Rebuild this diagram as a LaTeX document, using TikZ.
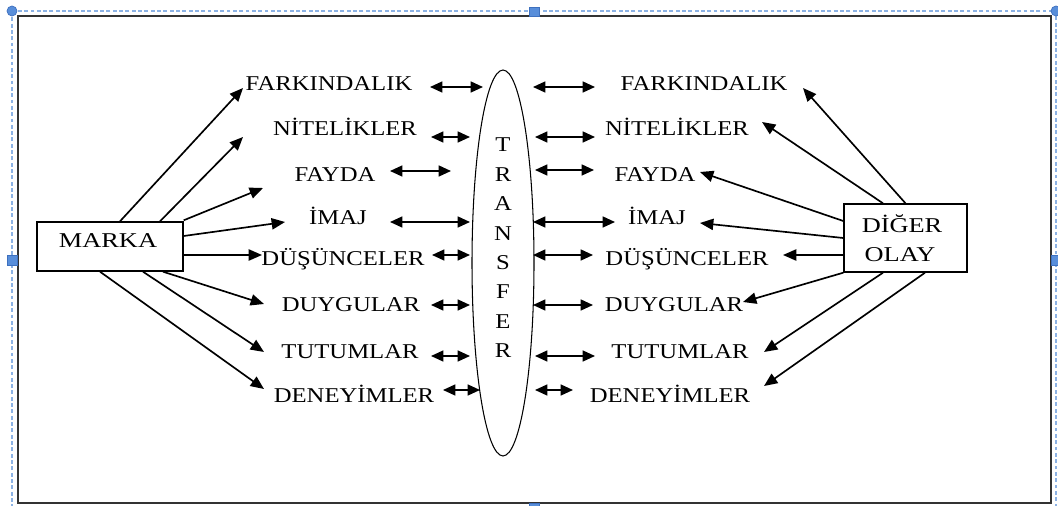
\documentclass[tikz,border=0pt]{standalone}
\usepackage{fontspec}
\setmainfont[FakeStretch=1.17]{Liberation Serif}
\newfontfamily\boxfont[FakeStretch=1.25]{Liberation Serif}
\usetikzlibrary{arrows.meta,shapes.geometric}
\definecolor{selblue}{RGB}{140,178,228}
\definecolor{handlefill}{RGB}{88,142,218}
\definecolor{handledraw}{RGB}{62,112,190}

\begin{document}
\begin{tikzpicture}[x=0.02cm,y=-0.02cm,
  lbl/.style={anchor=base, inner sep=0pt, font=\fontsize{12}{14}\selectfont},
  boxtxt/.style={anchor=base, inner sep=0pt, font=\boxfont\fontsize{12}{14}\selectfont},
  frame box/.style={draw, line width=0.8pt, inner sep=0pt},
  link/.style={line width=0.95pt, -{Triangle[length=7.6pt,width=6.4pt]}},
  dbl/.style={line width=0.95pt, {Triangle[length=7pt,width=6.2pt]}-{Triangle[length=7pt,width=6.2pt]}},
  handle/.style={fill=handlefill, draw=handledraw, line width=0.4pt}
]
\useasboundingbox (0,0) rectangle (1058,506);
\clip (0,0) rectangle (1058,506);

% selection outline and handles
\draw[selblue, line width=1pt, dash pattern=on 2.2pt off 1.4pt] (12,11) rectangle (1056,512);
\draw[black!80, line width=1.1pt] (18,16) rectangle (1051,503);
\fill[handle] (12,11) circle[radius=0.1cm];
\fill[handle] (1056,11) circle[radius=0.1cm];
\filldraw[handle] (529,7) rectangle (539,16);
\filldraw[handle] (7,255) rectangle (17,265);
\filldraw[handle] (1051,255) rectangle (1061,265);
\filldraw[handle] (529,503) rectangle (539,512);

% the two boxes
\node[frame box, minimum width=2.92cm, minimum height=0.98cm] (marka) at (110,246.5) {};
\node[boxtxt] (markatxt) at (108,248) {MARKA};
\node[frame box, minimum width=2.46cm, minimum height=1.36cm] (diger) at (905.5,238) {};
\node[boxtxt] (digtxt1) at (902,233) {DİĞER};
\node[boxtxt] (digtxt2) at (900,262) {OLAY};

% central ellipse with vertical text
\node[draw, ellipse, line width=0.6pt, minimum width=1.24cm, minimum height=7.72cm, inner sep=0pt] (transfer) at (503,263) {};
\foreach \c [count=\i from 0] in {T,R,A,N,S,F,E,R}
  \node[lbl] (tr\i) at (503,{152+29.4*\i}) {\c};

% left column of labels
\node[lbl] (lf1) at (329,91) {FARKINDALIK};
\node[lbl] (lf2) at (345,136) {NİTELİKLER};
\node[lbl] (lf3) at (335,182) {FAYDA};
\node[lbl] (lf4) at (338,225) {İMAJ};
\node[lbl] (lf5) at (343,266) {DÜŞÜNCELER};
\node[lbl] (lf6) at (351,312) {DUYGULAR};
\node[lbl] (lf7) at (350,358) {TUTUMLAR};
\node[lbl] (lf8) at (354,402) {DENEYİMLER};

% right column of labels
\node[lbl] (rt1) at (704,91) {FARKINDALIK};
\node[lbl] (rt2) at (677,136) {NİTELİKLER};
\node[lbl] (rt3) at (655,182) {FAYDA};
\node[lbl] (rt4) at (657,225) {İMAJ};
\node[lbl] (rt5) at (687,266) {DÜŞÜNCELER};
\node[lbl] (rt6) at (674,312) {DUYGULAR};
\node[lbl] (rt7) at (680,358) {TUTUMLAR};
\node[lbl] (rt8) at (670,402) {DENEYİMLER};

% arrow tips next to the labels
\coordinate (la1) at (243,88);
\coordinate (la2) at (243,137);
\coordinate (la3) at (263,188);
\coordinate (la4) at (285,222);
\coordinate (la5) at (262,255);
\coordinate (la6) at (264,304);
\coordinate (la7) at (264,352);
\coordinate (la8) at (264,389);

\coordinate (ra1) at (803,88);
\coordinate (ra2) at (762,122);
\coordinate (ra3) at (700,172);
\coordinate (ra4) at (700,223);
\coordinate (ra5) at (783,255);
\coordinate (ra6) at (743,302);
\coordinate (ra7) at (764,352);
\coordinate (ra8) at (764,386);

% MARKA fans out to the left column
\draw[link] ([xshift=0.2cm]marka.north) -- (la1);
\draw[link] ([xshift=1.0cm]marka.north) -- (la2);
\draw[link] ([yshift=0.02cm]marka.north east) -- (la3);
\draw[link] ([yshift=0.21cm]marka.east) -- (la4);
\draw[link] ([yshift=-0.17cm]marka.east) -- (la5);
\draw[link] ([xshift=1.06cm]marka.south) -- (la6);
\draw[link] ([xshift=0.66cm]marka.south) -- (la7);
\draw[link] ([xshift=-0.2cm]marka.south) -- (la8);

% DİĞER OLAY fans out to the right column
\draw[link] (diger.north) -- (ra1);
\draw[link] ([xshift=-0.45cm]diger.north) -- (ra2);
\draw[link] ([yshift=0.34cm]diger.west) -- (ra3);
\draw[link] (diger.west) -- (ra4);
\draw[link] ([yshift=-0.34cm]diger.west) -- (ra5);
\draw[link] (diger.south west) -- (ra6);
\draw[link] ([xshift=-0.45cm]diger.south) -- (ra7);
\draw[link] ([xshift=0.39cm]diger.south) -- (ra8);

% two-way arrows on both sides of the ellipse
\foreach \n/\y/\a/\b in {1/87/430/483, 2/137/431/470, 3/171/390/451, 4/222/390/470,
                         5/255/432/470, 6/305/431/470, 7/356/431/470, 8/390/443/480} {
  \coordinate (dlA\n) at (\a,\y);
  \coordinate (dlB\n) at (\b,\y);
  \draw[dbl] (dlA\n) -- (dlB\n);
}
\foreach \n/\y/\a/\b in {1/87/533/595, 2/137/535/595, 3/170/535/594, 4/222/533/615,
                         5/255/533/593, 6/305/533/593, 7/356/535/595, 8/390/535/573} {
  \coordinate (drA\n) at (\a,\y);
  \coordinate (drB\n) at (\b,\y);
  \draw[dbl] (drA\n) -- (drB\n);
}
\end{tikzpicture}
\end{document}
